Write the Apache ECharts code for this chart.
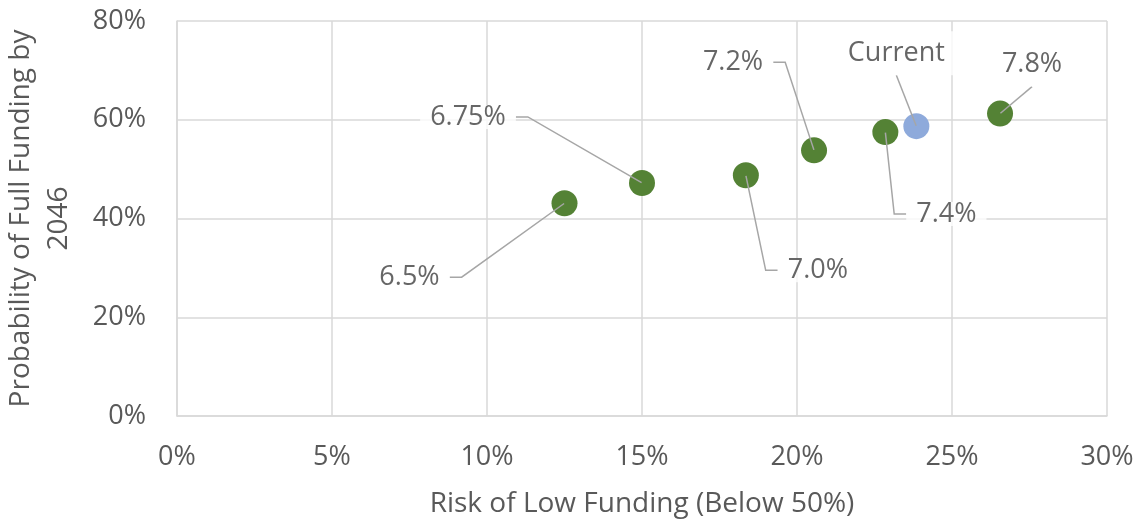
<!DOCTYPE html>
<html>
<head>
<meta charset="utf-8">
<title>Funding probability vs risk</title>
<script src="https://cdn.jsdelivr.net/npm/echarts@6/dist/echarts.min.js"></script>
<style>
  html, body { margin: 0; padding: 0; background: #ffffff; }
  #chart { width: 1139px; height: 520px; }
</style>
</head>
<body>
<div id="chart"></div>
<script>
// Assumed return scenarios: risk of low funding (%) vs probability of full funding (%)
const rateLabels = ['6.5%', '6.75%', '7.0%', '7.2%', '7.4%', '7.8%'];
const riskLow    = [12.5, 15.0, 18.35, 20.55, 22.85, 26.55];
const probFull   = [43.1, 47.2, 48.75, 53.8, 57.5, 61.25];

// Current policy point
const currentLabel = 'Current';
const currentRisk  = 23.85;
const currentProb  = 58.7;

// Axis ticks
const xTicks = [0, 5, 10, 15, 20, 25, 30];
const yTicks = [0, 20, 40, 60, 80];

// Label placement relative to each point (pixels), leader-line tail length,
// and whether the label sits above its point (taller box, straight leader)
const labelPlacement = {
  '6.5%':    { dx: -155, dy: 74,  tail: 12, above: false },
  '6.75%':   { dx: -174, dy: -66, tail: 12, above: false },
  '7.0%':    { dx: 72,   dy: 95,  tail: 12, above: false },
  '7.2%':    { dx: -81,  dy: -88, tail: 12, above: false },
  '7.4%':    { dx: 61,   dy: 82,  tail: 12, above: false },
  'Current': { dx: -20,  dy: -73, tail: 0,  above: true },
  '7.8%':    { dx: 32,   dy: -49, tail: 0,  above: true }
};

const FONT = '"Open Sans", "Noto Sans", sans-serif';
const GRID_COLOR = '#d9d9d9';
const AXIS_TEXT = '#595959';

const greenData = riskLow.map((x, i) => ({ name: rateLabels[i], value: [x, probFull[i]] }));
const blueData = [{ name: currentLabel, value: [currentRisk, currentProb] }];

// Tiny invisible anchors at every point carry the labels, so leader lines reach point centres
const labelNames = rateLabels.slice(0, 5).concat([currentLabel, rateLabels[5]]);
const labelX = riskLow.slice(0, 5).concat([currentRisk, riskLow[5]]);
const labelY = probFull.slice(0, 5).concat([currentProb, probFull[5]]);
const anchorData = labelNames.map((n, i) => {
  const p = labelPlacement[n];
  return {
    name: n,
    value: [labelX[i], labelY[i]],
    label: p.above ? { lineHeight: 32, padding: [6, 10] } : { lineHeight: 24, padding: [0, 10] },
    labelLine: { length2: p.tail }
  };
});

const chart = echarts.init(document.getElementById('chart'), null, { renderer: 'canvas' });

chart.setOption({
  animation: false,
  backgroundColor: '#ffffff',
  grid: { left: 177, right: 32, top: 21, bottom: 104, containLabel: false, outerBoundsMode: 'none' },
  xAxis: {
    type: 'value',
    min: xTicks[0],
    max: xTicks[xTicks.length - 1],
    interval: xTicks[1] - xTicks[0],
    name: 'Risk of Low Funding (Below 50%)',
    nameLocation: 'middle',
    nameGap: 74,
    nameTextStyle: { fontFamily: FONT, fontSize: 28, color: AXIS_TEXT },
    axisLine: { show: true, lineStyle: { color: GRID_COLOR, width: 1.5 } },
    axisTick: { show: false },
    axisLabel: {
      formatter: '{value}%',
      fontFamily: FONT, fontSize: 27, color: AXIS_TEXT, margin: 28
    },
    splitLine: { show: true, lineStyle: { color: GRID_COLOR, width: 1.5 } }
  },
  yAxis: {
    type: 'value',
    min: yTicks[0],
    max: yTicks[yTicks.length - 1],
    interval: yTicks[1] - yTicks[0],
    name: 'Probability of Full Funding by\n2046',
    nameLocation: 'middle',
    nameGap: 99,
    nameTextStyle: { fontFamily: FONT, fontSize: 28, color: AXIS_TEXT, lineHeight: 38, align: 'center' },
    axisLine: { show: true, lineStyle: { color: GRID_COLOR, width: 1.5 } },
    axisTick: { show: false },
    axisLabel: {
      formatter: '{value}%',
      fontFamily: FONT, fontSize: 27, color: AXIS_TEXT, margin: 31
    },
    splitLine: { show: true, lineStyle: { color: GRID_COLOR, width: 1.5 } }
  },
  series: [
    {
      name: 'Scenarios',
      type: 'scatter',
      symbol: 'circle',
      symbolSize: 26,
      itemStyle: { color: '#548235', opacity: 1 },
      emphasis: { disabled: true },
      data: greenData,
      z: 2
    },
    {
      name: 'Current',
      type: 'scatter',
      symbol: 'circle',
      symbolSize: 26,
      itemStyle: { color: '#8eaadb', opacity: 1 },
      emphasis: { disabled: true },
      data: blueData,
      z: 2
    },
    {
      name: 'Labels',
      type: 'scatter',
      symbol: 'circle',
      symbolSize: 1,
      silent: true,
      itemStyle: { color: 'rgba(0,0,0,0)' },
      emphasis: { disabled: true },
      z: 5,
      data: anchorData,
      label: {
        show: true,
        formatter: '{b}',
        fontFamily: FONT,
        fontSize: 27,
        color: '#404040',
        backgroundColor: '#ffffff'
      },
      labelLine: {
        show: true,
        smooth: false,
        lineStyle: { color: '#a6a6a6', width: 1.5 }
      },
      labelLayout: function (params) {
        const p = labelPlacement[labelNames[params.dataIndex]];
        const cx = params.rect.x + params.rect.width / 2;
        const cy = params.rect.y + params.rect.height / 2;
        return {
          x: cx + p.dx,
          y: cy + p.dy,
          align: 'center',
          verticalAlign: 'middle',
          hideOverlap: false,
          moveOverlap: false
        };
      }
    }
  ]
});
</script>
</body>
</html>
